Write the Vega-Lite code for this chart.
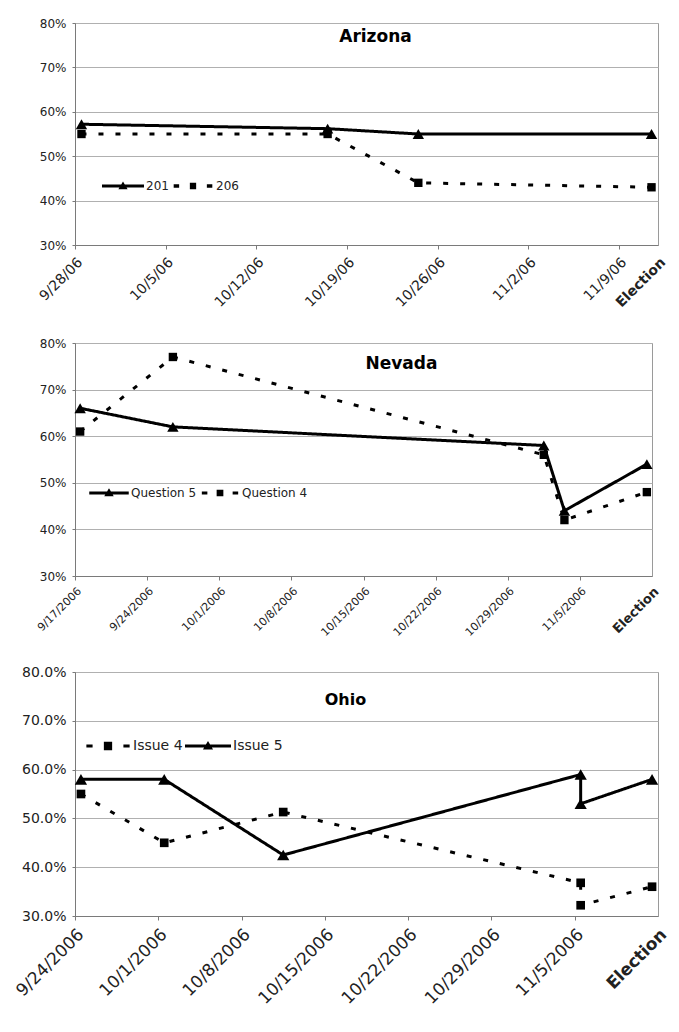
{
  "$schema": "https://vega.github.io/schema/vega-lite/v6.json",
  "padding": {"top": 16, "left": 0, "right": 0, "bottom": 0},
  "spacing": 20,
  "columns": 1,
  "align": "none",
  "resolve": {"scale": {"strokeDash": "independent", "shape": "independent", "size": "independent"}, "legend": {"strokeDash": "independent", "shape": "independent", "size": "independent"}},
  "config": {
    "font": "DejaVu Sans",
    "view": {"stroke": "#9a9a9a", "strokeWidth": 1},
    "axis": {"gridColor": "#b0b0b0", "gridWidth": 1, "domainColor": "#7a7a7a", "tickColor": "#7a7a7a", "labelColor": "#222222", "labelFont": "DejaVu Sans", "title": null, "labelOverlap": false, "labelBound": false},
    "legend": {"padding": 0, "labelFont": "DejaVu Sans", "labelColor": "#222222", "symbolFillColor": "black", "symbolStrokeWidth": 0, "symbolOpacity": 1, "title": null, "orient": "none", "direction": "horizontal", "labelOffset": 2},
    "title": {"font": "DejaVu Sans", "fontWeight": "bold", "color": "#000000", "anchor": "middle", "frame": "group", "baseline": "alphabetic"}
  },
  "concat": [
    {
      "width": 583, "height": 222,
      "title": {"text": "Arizona", "fontSize": 17, "offset": -29, "dx": 9},
      "data": {"values": [
        {"date": "2006-09-28T12:00:00", "value": 0.572, "series": "201", "seq": 1},
        {"date": "2006-10-17T12:00:00", "value": 0.562, "series": "201", "seq": 2},
        {"date": "2006-10-24T12:00:00", "value": 0.55, "series": "201", "seq": 3},
        {"date": "2006-11-11T12:00:00", "value": 0.55, "series": "201", "seq": 4},
        {"date": "2006-09-28T12:00:00", "value": 0.55, "series": "206", "seq": 1},
        {"date": "2006-10-17T12:00:00", "value": 0.55, "series": "206", "seq": 2},
        {"date": "2006-10-24T12:00:00", "value": 0.44, "series": "206", "seq": 3},
        {"date": "2006-11-11T12:00:00", "value": 0.43, "series": "206", "seq": 4}
      ]},
      "encoding": {
        "x": {"field": "date", "type": "temporal",
          "scale": {"domain": [{"year": 2006, "month": "Sep", "date": 28}, {"year": 2006, "month": "Nov", "date": 12}], "nice": false},
          "axis": {"grid": false, "labelAngle": -45, "labelAlign": "right", "labelBaseline": "top", "labelPadding": 6, "tickSize": 4, "labelFontSize": 14, "minExtent": 70, "maxExtent": 70,
            "values": [{"year": 2006, "month": "Sep", "date": 28}, {"year": 2006, "month": "Oct", "date": 5}, {"year": 2006, "month": "Oct", "date": 12}, {"year": 2006, "month": "Oct", "date": 19}, {"year": 2006, "month": "Oct", "date": 26}, {"year": 2006, "month": "Nov", "date": 2}, {"year": 2006, "month": "Nov", "date": 9}, {"year": 2006, "month": "Nov", "date": 12}],
            "labelExpr": "datum.value >= datetime(2006,10,12) ? 'Election' : timeFormat(datum.value, '%-m/%-d/%y')",
            "labelFontWeight": {"condition": {"test": "datum.value >= datetime(2006,10,12)", "value": "bold"}, "value": "normal"},
            "tickOpacity": {"condition": {"test": "datum.value >= datetime(2006,10,12)", "value": 0}, "value": 1}}},
        "y": {"field": "value", "type": "quantitative",
          "scale": {"domain": [0.3, 0.8], "nice": false, "zero": false},
          "axis": {"format": ".0%", "values": [0.3, 0.4, 0.5, 0.6, 0.7, 0.8], "tickSize": 3, "labelPadding": 6, "labelFontSize": 12, "minExtent": 74, "maxExtent": 74}}
      },
      "resolve": {"scale": {"shape": "independent", "size": "independent"}},
      "layer": [
        {"mark": {"type": "line", "color": "black", "strokeWidth": 3},
         "encoding": {
           "order": {"field": "seq", "type": "quantitative"},
           "strokeDash": {"field": "series", "type": "nominal", "scale": {"domain": ["201", "206"], "range": [[1, 0], [5, 12]]}, "legend": null}
         }},
        {"mark": {"type": "point", "filled": true, "color": "black", "opacity": 1},
         "encoding": {
           "shape": {"field": "series", "type": "nominal", "scale": {"domain": ["201", "206"], "range": ["triangle-up", "square"]}, "legend": null},
           "size": {"field": "series", "type": "nominal", "scale": {"domain": ["201", "206"], "range": [130, 70]}, "legend": null}
         }},
        {"transform": [{"filter": "false"}],
         "mark": {"type": "point", "filled": true, "color": "black", "opacity": 1, "size": 1764, "strokeWidth": 0},
         "encoding": {
           "shape": {"field": "series", "type": "nominal",
             "scale": {"domain": ["201", "206"], "range": ["M-1,-0.07H1V0.07H-1Z M0,-0.22L0.22,0.16L-0.22,0.16Z", "M-0.92,-0.08H-0.66V0.08H-0.92Z M0.66,-0.08H0.92V0.08H0.66Z M-0.15,-0.15H0.15V0.15H-0.15Z"]},
             "legend": {"legendX": 27, "legendY": 142, "symbolSize": 1764, "labelFontSize": 12, "columnPadding": 3}}
         }}
      ]
    },
    {
      "width": 577, "height": 233,
      "title": {"text": "Nevada", "fontSize": 17, "offset": -36, "dx": 38},
      "data": {"values": [
        {"date": "2006-09-17T12:00:00", "value": 0.66, "series": "Question 5", "seq": 1},
        {"date": "2006-09-26T12:00:00", "value": 0.62, "series": "Question 5", "seq": 2},
        {"date": "2006-11-01T12:00:00", "value": 0.58, "series": "Question 5", "seq": 3},
        {"date": "2006-11-03T12:00:00", "value": 0.44, "series": "Question 5", "seq": 4},
        {"date": "2006-11-11T12:00:00", "value": 0.54, "series": "Question 5", "seq": 5},
        {"date": "2006-09-17T12:00:00", "value": 0.61, "series": "Question 4", "seq": 1},
        {"date": "2006-09-26T12:00:00", "value": 0.77, "series": "Question 4", "seq": 2},
        {"date": "2006-11-01T12:00:00", "value": 0.56, "series": "Question 4", "seq": 3},
        {"date": "2006-11-03T12:00:00", "value": 0.42, "series": "Question 4", "seq": 4},
        {"date": "2006-11-11T12:00:00", "value": 0.48, "series": "Question 4", "seq": 5}
      ]},
      "encoding": {
        "x": {"field": "date", "type": "temporal",
          "scale": {"domain": [{"year": 2006, "month": "Sep", "date": 17}, {"year": 2006, "month": "Nov", "date": 12}], "nice": false},
          "axis": {"grid": false, "labelAngle": -45, "labelAlign": "right", "labelBaseline": "top", "labelPadding": 5, "tickSize": 4, "minExtent": 67, "maxExtent": 67,
            "values": [{"year": 2006, "month": "Sep", "date": 17}, {"year": 2006, "month": "Sep", "date": 24}, {"year": 2006, "month": "Oct", "date": 1}, {"year": 2006, "month": "Oct", "date": 8}, {"year": 2006, "month": "Oct", "date": 15}, {"year": 2006, "month": "Oct", "date": 22}, {"year": 2006, "month": "Oct", "date": 29}, {"year": 2006, "month": "Nov", "date": 5}, {"year": 2006, "month": "Nov", "date": 12}],
            "labelExpr": "datum.value >= datetime(2006,10,12) ? 'Election' : timeFormat(datum.value, '%-m/%-d/%Y')",
            "labelFontWeight": {"condition": {"test": "datum.value >= datetime(2006,10,12)", "value": "bold"}, "value": "normal"},
            "labelFontSize": {"condition": {"test": "datum.value >= datetime(2006,10,12)", "value": 13}, "value": 11},
            "tickOpacity": {"condition": {"test": "datum.value >= datetime(2006,10,12)", "value": 0}, "value": 1}}},
        "y": {"field": "value", "type": "quantitative",
          "scale": {"domain": [0.3, 0.8], "nice": false, "zero": false},
          "axis": {"format": ".0%", "values": [0.3, 0.4, 0.5, 0.6, 0.7, 0.8], "tickSize": 3, "labelPadding": 6, "labelFontSize": 12, "minExtent": 74, "maxExtent": 74}}
      },
      "resolve": {"scale": {"shape": "independent", "size": "independent"}},
      "layer": [
        {"mark": {"type": "line", "color": "black", "strokeWidth": 3},
         "encoding": {
           "order": {"field": "seq", "type": "quantitative"},
           "strokeDash": {"field": "series", "type": "nominal", "scale": {"domain": ["Question 5", "Question 4"], "range": [[1, 0], [5, 12]]}, "legend": null}
         }},
        {"mark": {"type": "point", "filled": true, "color": "black", "opacity": 1},
         "encoding": {
           "shape": {"field": "series", "type": "nominal", "scale": {"domain": ["Question 5", "Question 4"], "range": ["triangle-up", "square"]}, "legend": null},
           "size": {"field": "series", "type": "nominal", "scale": {"domain": ["Question 5", "Question 4"], "range": [130, 70]}, "legend": null}
         }},
        {"transform": [{"filter": "false"}],
         "mark": {"type": "point", "filled": true, "color": "black", "opacity": 1, "size": 1560, "strokeWidth": 0},
         "encoding": {
           "shape": {"field": "series", "type": "nominal",
             "scale": {"domain": ["Question 5", "Question 4"], "range": ["M-1,-0.07H1V0.07H-1Z M0,-0.24L0.24,0.17L-0.24,0.17Z", "M-0.92,-0.08H-0.64V0.08H-0.92Z M0.64,-0.08H0.92V0.08H0.64Z M-0.17,-0.17H0.17V0.17H-0.17Z"]},
             "legend": {"legendX": 14, "legendY": 130, "symbolSize": 1560, "labelFontSize": 12, "columnPadding": 3}}
         }}
      ]
    },
    {
      "width": 583, "height": 244,
      "title": {"text": "Ohio", "fontSize": 16, "offset": -43, "dx": -21},
      "data": {"values": [
        {"date": "2006-09-24T12:00:00", "value": 0.58, "series": "Issue 5", "seq": 1},
        {"date": "2006-10-01T12:00:00", "value": 0.58, "series": "Issue 5", "seq": 2},
        {"date": "2006-10-11T12:00:00", "value": 0.425, "series": "Issue 5", "seq": 3},
        {"date": "2006-11-05T12:00:00", "value": 0.59, "series": "Issue 5", "seq": 4},
        {"date": "2006-11-05T12:00:00", "value": 0.53, "series": "Issue 5", "seq": 5},
        {"date": "2006-11-11T12:00:00", "value": 0.58, "series": "Issue 5", "seq": 6},
        {"date": "2006-09-24T12:00:00", "value": 0.55, "series": "Issue 4", "seq": 1},
        {"date": "2006-10-01T12:00:00", "value": 0.45, "series": "Issue 4", "seq": 2},
        {"date": "2006-10-11T12:00:00", "value": 0.513, "series": "Issue 4", "seq": 3},
        {"date": "2006-11-05T12:00:00", "value": 0.368, "series": "Issue 4", "seq": 4},
        {"date": "2006-11-05T12:00:00", "value": 0.322, "series": "Issue 4", "seq": 5},
        {"date": "2006-11-11T12:00:00", "value": 0.36, "series": "Issue 4", "seq": 6}
      ]},
      "encoding": {
        "x": {"field": "date", "type": "temporal",
          "scale": {"domain": [{"year": 2006, "month": "Sep", "date": 24}, {"year": 2006, "month": "Nov", "date": 12}], "nice": false},
          "axis": {"grid": false, "labelAngle": -45, "labelAlign": "right", "labelBaseline": "top", "labelPadding": 6, "tickSize": 4, "labelFontSize": 17, "minExtent": 95, "maxExtent": 95,
            "values": [{"year": 2006, "month": "Sep", "date": 24}, {"year": 2006, "month": "Oct", "date": 1}, {"year": 2006, "month": "Oct", "date": 8}, {"year": 2006, "month": "Oct", "date": 15}, {"year": 2006, "month": "Oct", "date": 22}, {"year": 2006, "month": "Oct", "date": 29}, {"year": 2006, "month": "Nov", "date": 5}, {"year": 2006, "month": "Nov", "date": 12}],
            "labelExpr": "datum.value >= datetime(2006,10,12) ? 'Election' : timeFormat(datum.value, '%-m/%-d/%Y')",
            "labelFontWeight": {"condition": {"test": "datum.value >= datetime(2006,10,12)", "value": "bold"}, "value": "normal"},
            "tickOpacity": {"condition": {"test": "datum.value >= datetime(2006,10,12)", "value": 0}, "value": 1}}},
        "y": {"field": "value", "type": "quantitative",
          "scale": {"domain": [0.3, 0.8], "nice": false, "zero": false},
          "axis": {"format": ".1%", "values": [0.3, 0.4, 0.5, 0.6, 0.7, 0.8], "tickSize": 3, "labelPadding": 6, "labelFontSize": 14, "minExtent": 74, "maxExtent": 74}}
      },
      "resolve": {"scale": {"shape": "independent", "size": "independent"}},
      "layer": [
        {"mark": {"type": "line", "color": "black", "strokeWidth": 3},
         "encoding": {
           "order": {"field": "seq", "type": "quantitative"},
           "strokeDash": {"field": "series", "type": "nominal", "scale": {"domain": ["Issue 4", "Issue 5"], "range": [[5, 12], [1, 0]]}, "legend": null}
         }},
        {"mark": {"type": "point", "filled": true, "color": "black", "opacity": 1},
         "encoding": {
           "shape": {"field": "series", "type": "nominal", "scale": {"domain": ["Issue 4", "Issue 5"], "range": ["square", "triangle-up"]}, "legend": null},
           "size": {"field": "series", "type": "nominal", "scale": {"domain": ["Issue 4", "Issue 5"], "range": [75, 150]}, "legend": null}
         }},
        {"transform": [{"filter": "false"}],
         "mark": {"type": "point", "filled": true, "color": "black", "opacity": 1, "size": 2116, "strokeWidth": 0},
         "encoding": {
           "shape": {"field": "series", "type": "nominal",
             "scale": {"domain": ["Issue 4", "Issue 5"], "range": ["M-0.94,-0.07H-0.67V0.07H-0.94Z M0.67,-0.07H0.94V0.07H0.67Z M-0.18,-0.18H0.18V0.18H-0.18Z", "M-1,-0.065H1V0.065H-1Z M0,-0.22L0.22,0.15L-0.22,0.15Z"]},
             "legend": {"legendX": 10, "legendY": 51, "symbolSize": 2116, "labelFontSize": 14, "columnPadding": 2}}
         }}
      ]
    }
  ]
}
